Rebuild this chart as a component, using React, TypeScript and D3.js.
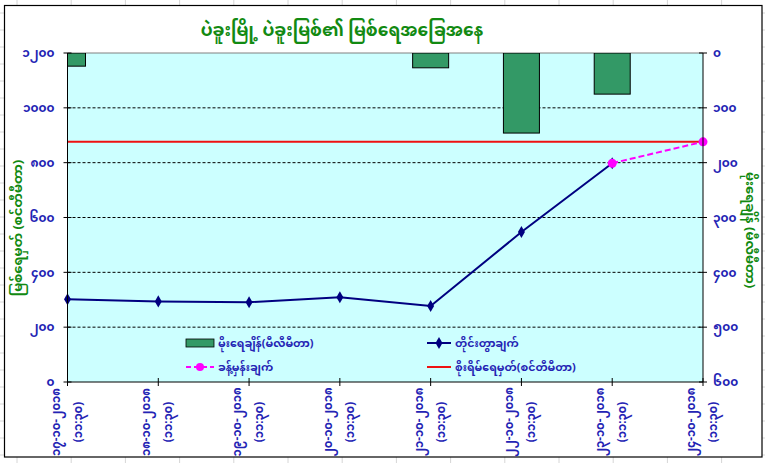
import * as d3 from "d3";

// category labels (date + time)
const dates = [
  "၁၇-၁၀-၂၀၁၈",
  "၁၈-၁၀-၂၀၁၈",
  "၁၉-၁၀-၂၀၁၈",
  "၂၀-၁၀-၂၀၁၈",
  "၂၁-၁၀-၂၀၁၈",
  "၂၂-၁၀-၂၀၁၈",
  "၂၃-၁၀-၂၀၁၈",
  "၂၄-၁၀-၂၀၁၈",
];
const times = ["(၁၁:၃၀)", "(၁၁:၃၀)", "(၁၁:၃၀)", "(၁၁:၃၀)", "(၁၁:၃၀)", "(၁၁:၃၀)", "(၁၁:၃၀)", "(၁၁:၃၀)"];

// series
const rainfall = [24, 0, 0, 0, 27, 146, 75, 0];
const observed: (number | null)[] = [302, 294, 291, 309, 277, 547, 798, null];
const forecast: (number | null)[] = [null, null, null, null, null, null, 798, 876];
const dangerLevel = [876, 876, 876, 876, 876, 876, 876, 876];

// axes
const levelTicks = [0, 200, 400, 600, 800, 1000, 1200];
const levelTickLabels = ["၀", "၂၀၀", "၄၀၀", "၆၀၀", "၈၀၀", "၁၀၀၀", "၁၂၀၀"];
const rainTicks = [0, 100, 200, 300, 400, 500, 600];
const rainTickLabels = ["၀", "၁၀၀", "၂၀၀", "၃၀၀", "၄၀၀", "၅၀၀", "၆၀၀"];

const title = "ပဲခူးမြို့ ပဲခူးမြစ်၏ မြစ်ရေအခြေအနေ";
const leftTitle = "မြစ်ရေမှတ် (စင်တီမီတာ)";
const rightTitle = "မိုးရေချိန် (မီလီမီတာ)";
const legendNames = ["မိုးရေချိန်(မီလီမီတာ)", "တိုင်းတွာချက်", "ခန့်မှန်းချက်", "စိုးရိမ်ရေမှတ်(စင်တီမီတာ)"];

const W = 765;
const H = 463;
const font = "'Noto Sans Myanmar', 'Padauk', 'Myanmar Text', 'Noto Sans', sans-serif";
const blue = "#2424b4";
const green = "#128a12";

export default function App() {
  const left = 67.5;
  const right = 703;
  const top = 53;
  const bottom = 382;

  const idx = dates.map((_, i) => i);
  const x = d3.scalePoint<number>().domain(idx).range([left, right]);
  const yLevel = d3.scaleLinear().domain([0, 1200]).range([bottom, top]);
  const yRain = d3.scaleLinear().domain([0, 600]).range([top, bottom]);
  const barW = 36;

  const line = d3
    .line<number | null>()
    .defined((d) => d != null)
    .x((_, i) => x(i)!)
    .y((d) => yLevel(d as number));

  const diamond = d3.symbol().type(d3.symbolDiamond).size(42)()!;

  // spreadsheet cell lines behind the chart object
  const colLines = d3.range(17, W, 54.2);
  const rowLines = d3.range(13, H, 17);

  const legendRows = [343, 367];
  const legendCols = [186, 427];

  return (
    <svg width={W} height={H} style={{ position: "absolute", left: 0, top: 0 }} fontFamily={font}>
      <rect width={W} height={H} fill="#fff" />
      {colLines.map((c) => (
        <line key={"c" + c} x1={c} x2={c} y1={0} y2={H} stroke="#d6d6d6" />
      ))}
      {rowLines.map((r) => (
        <line key={"r" + r} x1={0} x2={W} y1={r} y2={r} stroke="#d6d6d6" />
      ))}
      <rect x={4.5} y={5.5} width={757.5} height={451.5} fill="#fff" stroke="#000" strokeWidth={1.2} />

      <defs>
        <clipPath id="plot">
          <rect x={left} y={top} width={right - left} height={bottom - top} />
        </clipPath>
      </defs>

      {/* plot area */}
      <rect x={left} y={top} width={right - left} height={bottom - top} fill="#ccffff" />
      {levelTicks.slice(1, -1).map((t) => (
        <line key={t} x1={left} x2={right} y1={yLevel(t)} y2={yLevel(t)} stroke="#000" strokeDasharray="3,2" />
      ))}
      <line x1={left} x2={right} y1={top} y2={top} stroke="#808080" />

      {/* rainfall bars hanging from the reversed right axis */}
      <g clipPath="url(#plot)">
        {rainfall.map((v, i) =>
          v > 0 ? (
            <rect
              key={i}
              x={x(i)! - barW / 2}
              y={yRain(0)}
              width={barW}
              height={yRain(v) - yRain(0)}
              fill="#339966"
              stroke="#000"
              strokeWidth={1}
            />
          ) : null
        )}
      </g>

      {/* danger level */}
      <path d={line(dangerLevel) ?? ""} fill="none" stroke="#ee1111" strokeWidth={2} />

      {/* observed */}
      <path d={line(observed) ?? ""} fill="none" stroke="#000080" strokeWidth={2} />
      {observed.map((v, i) =>
        v != null ? <path key={i} d={diamond} transform={`translate(${x(i)},${yLevel(v)})`} fill="#000080" /> : null
      )}

      {/* forecast */}
      <path d={line(forecast) ?? ""} fill="none" stroke="#ff00ff" strokeWidth={2} strokeDasharray="6,3" />
      {forecast.map((v, i) =>
        v != null ? <circle key={i} cx={x(i)} cy={yLevel(v)} r={4.5} fill="#ff00ff" /> : null
      )}

      {/* axes lines */}
      <line x1={left} x2={left} y1={top} y2={bottom} stroke="#000" />
      <line x1={right} x2={right} y1={top} y2={bottom} stroke="#000" />
      <line x1={left} x2={right} y1={bottom} y2={bottom} stroke="#000" />

      {/* left axis */}
      {levelTicks.map((t, i) => (
        <g key={t} transform={`translate(0,${yLevel(t)})`}>
          <line x1={left - 4} x2={left + 4} stroke="#000" />
          <text x={left - 13} dy="0.35em" textAnchor="end" fontSize={12} fontWeight="bold" fill={blue}>
            {levelTickLabels[i]}
          </text>
        </g>
      ))}

      {/* right axis */}
      {rainTicks.map((t, i) => (
        <g key={t} transform={`translate(0,${yRain(t)})`}>
          <line x1={right - 4} x2={right + 4} stroke="#000" />
          <text x={right + 10} dy="0.35em" textAnchor="start" fontSize={12} fontWeight="bold" fill={blue}>
            {rainTickLabels[i]}
          </text>
        </g>
      ))}

      {/* category axis */}
      {idx.map((i) => (
        <g key={i} transform={`translate(${x(i)},${bottom})`}>
          <line y1={-4} y2={4} stroke="#000" />
          <g transform="translate(0,40) rotate(-90)" fontSize={11.5} fontWeight="bold" fill={blue} textAnchor="middle">
            <text y={-8}>{dates[i]}</text>
            <text y={14}>{times[i]}</text>
          </g>
        </g>
      ))}

      {/* titles */}
      <text x={342} y={36} textAnchor="middle" fontSize={17} fontWeight="bold" fill={green}>
        {title}
      </text>
      <text transform="translate(22,228) rotate(-90)" textAnchor="middle" fontSize={13} fontWeight="bold" fill={green}>
        {leftTitle}
      </text>
      <text transform="translate(746,230) rotate(90)" textAnchor="middle" fontSize={13} fontWeight="bold" fill={green}>
        {rightTitle}
      </text>

      {/* legend */}
      <g fontSize={11} fontWeight="bold" fill={blue}>
        <rect x={legendCols[0]} y={legendRows[0] - 4} width={28} height={8} fill="#339966" stroke="#000" strokeWidth={0.8} />
        <text x={legendCols[0] + 32} y={legendRows[0]} dy="0.35em">{legendNames[0]}</text>

        <line x1={legendCols[1]} x2={legendCols[1] + 24} y1={legendRows[0]} y2={legendRows[0]} stroke="#000080" strokeWidth={2} />
        <path d={diamond} transform={`translate(${legendCols[1] + 12},${legendRows[0]})`} fill="#000080" />
        <text x={legendCols[1] + 28} y={legendRows[0]} dy="0.35em">{legendNames[1]}</text>

        <line x1={legendCols[0]} x2={legendCols[0] + 28} y1={legendRows[1]} y2={legendRows[1]} stroke="#ff00ff" strokeWidth={2} strokeDasharray="5,3" />
        <circle cx={legendCols[0] + 14} cy={legendRows[1]} r={4} fill="#ff00ff" />
        <text x={legendCols[0] + 32} y={legendRows[1]} dy="0.35em">{legendNames[2]}</text>

        <line x1={legendCols[1]} x2={legendCols[1] + 24} y1={legendRows[1]} y2={legendRows[1]} stroke="#ee1111" strokeWidth={2} />
        <text x={legendCols[1] + 28} y={legendRows[1]} dy="0.35em">{legendNames[3]}</text>
      </g>
    </svg>
  );
}
